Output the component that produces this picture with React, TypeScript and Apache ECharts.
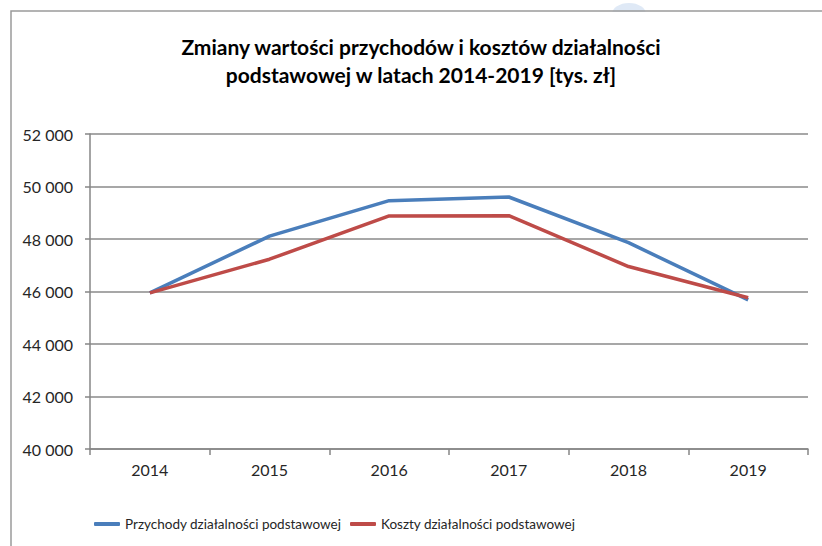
import React, { useEffect, useRef } from "react";
import * as echarts from "echarts";

const years = ["2014", "2015", "2016", "2017", "2018", "2019"];
const revenue = [45950, 48110, 49460, 49600, 47860, 45680];
const costs = [45950, 47230, 48880, 48890, 46950, 45760];
const seriesNames = ["Przychody działalności podstawowej", "Koszty działalności podstawowej"];
const titleLines = ["Zmiany wartości przychodów i kosztów działalności", "podstawowej w latach 2014-2019 [tys. zł]"];

const fmt = (v: number) => {
  const s = String(Math.round(v));
  return s.replace(/\B(?=(\d{3})+(?!\d))/g, " ");
};

export default function App() {
  const ref = useRef<HTMLDivElement>(null);
  useEffect(() => {
    if (!ref.current) return;
    const chart = echarts.init(ref.current, undefined, { renderer: "svg" });
    const font = "Lato, 'Open Sans', sans-serif";
    const legendBase = {
      bottom: 10,
      itemWidth: 26,
      itemHeight: 4,
      icon: "roundRect",
      textStyle: { fontFamily: font, fontSize: 13.5, color: "#262626" },
    };
    chart.setOption({
      animation: false,
      backgroundColor: "#ffffff",
      title: {
        text: titleLines.join("\n"),
        left: 416,
        textAlign: "center",
        top: 27,
        textStyle: { fontFamily: font, fontSize: 21, fontWeight: "bold", color: "#000000", lineHeight: 28 },
      },
      graphic: [
        {
          type: "ellipse",
          shape: { cx: 629, cy: 14, rx: 17, ry: 11 },
          style: { fill: "#dfe9f6" },
          silent: true,
          z: 1,
        },
        {
          type: "rect",
          shape: { x: 605, y: 11.8, width: 50, height: 16 },
          style: { fill: "#ffffff" },
          silent: true,
          z: 2,
        },
        {
          type: "rect",
          shape: { x: 11, y: 11, width: 900, height: 700 },
          style: { fill: "none", stroke: "#9a9a9a", lineWidth: 1.5 },
          silent: true,
          z: 3,
        },
      ],
      legend: [
        { ...legendBase, left: 89, data: [seriesNames[0]] },
        { ...legendBase, left: 345, data: [seriesNames[1]] },
      ],
      grid: { left: 90, right: 14, top: 134, bottom: 97 },
      xAxis: {
        type: "category",
        data: years,
        boundaryGap: true,
        axisLine: { lineStyle: { color: "#868686", width: 1.5 } },
        axisTick: { show: true, length: 6, alignWithLabel: false, lineStyle: { color: "#868686", width: 1.5 } },
        axisLabel: { fontFamily: font, fontSize: 16, color: "#262626", margin: 12 },
      },
      yAxis: {
        type: "value",
        min: 40000,
        max: 52000,
        interval: 2000,
        axisLine: { show: true, lineStyle: { color: "#868686", width: 1.5 } },
        axisTick: { show: true, length: 5, lineStyle: { color: "#868686", width: 1.5 } },
        splitLine: { lineStyle: { color: "#8a8a8a", width: 1.5 } },
        axisLabel: { fontFamily: font, fontSize: 16, color: "#262626", margin: 17, formatter: fmt },
      },
      series: [
        {
          name: seriesNames[0],
          type: "line",
          data: revenue,
          symbol: "none",
          lineStyle: { color: "#4a7ebb", width: 3.5 },
          itemStyle: { color: "#4a7ebb" },
        },
        {
          name: seriesNames[1],
          type: "line",
          data: costs,
          symbol: "none",
          lineStyle: { color: "#be4b48", width: 3.5 },
          itemStyle: { color: "#be4b48" },
        },
      ],
    });
    return () => chart.dispose();
  }, []);
  return <div ref={ref} style={{ position: "fixed", left: 0, top: 0, width: 822, height: 546 }} />;
}
